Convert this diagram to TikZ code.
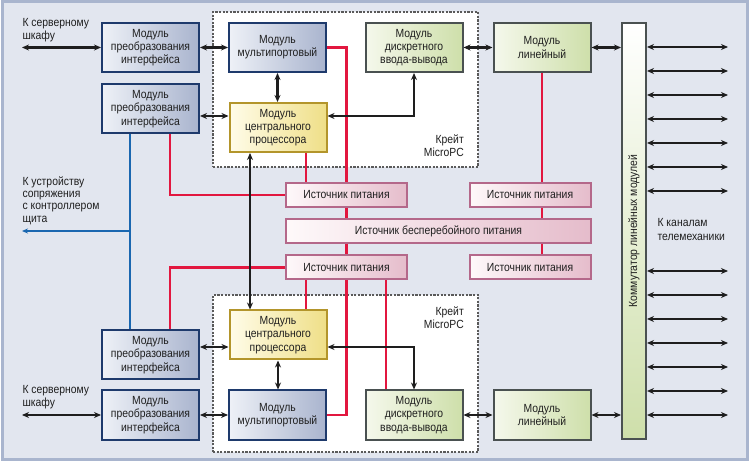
\documentclass[tikz,border=0pt]{standalone}
\usepackage{fontspec}
\setmainfont{Liberation Sans}[FakeStretch=0.88]
\usetikzlibrary{arrows.meta}

\definecolor{bgfill}{HTML}{E2E6EF}
\definecolor{bgframe}{HTML}{A9B5CE}
\definecolor{txtcol}{HTML}{1F1F1F}
\definecolor{ifborder}{HTML}{1E3A6C}
\definecolor{iflight}{HTML}{EEF1F7}
\definecolor{ifdark}{HTML}{A9B4CE}
\definecolor{cpuborder}{HTML}{B3952B}
\definecolor{cpulight}{HTML}{FFFCE8}
\definecolor{cpudark}{HTML}{EFDF88}
\definecolor{grborder}{HTML}{4A5151}
\definecolor{grlight}{HTML}{F5F8EC}
\definecolor{grdark}{HTML}{CEDFAA}
\definecolor{psborder}{HTML}{B4688A}
\definecolor{pslight}{HTML}{FEF9FA}
\definecolor{psdark}{HTML}{E5BCCB}
\definecolor{pwrline}{HTML}{E2173F}
\definecolor{busline}{HTML}{1A67B0}
\definecolor{sigline}{HTML}{1E1E1E}
\definecolor{crateline}{HTML}{5A5A5A}

\tikzset{
    modbox/.style={draw, line width=2pt, align=center, inner sep=1pt,
        minimum width=97pt, minimum height=49pt},
    ifmod/.style={modbox, draw=ifborder, left color=iflight, right color=ifdark},
    cpumod/.style={modbox, draw=cpuborder, left color=cpulight, right color=cpudark},
    grmod/.style={modbox, draw=grborder, left color=grlight, right color=grdark},
    psbox/.style={draw=psborder, line width=2pt, left color=pslight, right color=psdark,
        minimum width=121pt, minimum height=24pt, inner sep=1pt},
    crate/.style={draw=crateline, fill=white, line width=1.3pt, dash pattern=on 2.2pt off 1.4pt},
    sig/.style={draw=sigline, line width=2.1pt},
    pwr/.style={draw=pwrline, line width=2.3pt},
    bus/.style={draw=busline, line width=2.2pt},
    chan/.style={draw=sigline, line width=1.9pt, <->},
    lbl/.style={align=left, anchor=west}
}

\begin{document}
\begin{tikzpicture}[x=1pt, y=-1pt,
        every node/.append style={font=\fontsize{11.8}{13.3}\selectfont, text=txtcol},
        >={Stealth[length=7pt,width=6pt]}]
                \useasboundingbox (0,0) rectangle (750,462);
                \fill[white] (0,0) rectangle (750,462);
                \draw[bgframe, fill=bgfill, line width=3pt] (2,2) rectangle (747,459);

                \node[crate, minimum width=265pt, minimum height=155pt] (crate1) at (345.5,89.5) {};
                \node[crate, minimum width=265pt, minimum height=157pt] (crate2) at (345.5,373.5) {};
                \node[align=right, anchor=east, inner sep=0pt] (crate1lbl) at (464,145.5) {Крейт\\MicroPC};
                \node[align=right, anchor=east, inner sep=0pt] (crate2lbl) at (464,317.5) {Крейт\\MicroPC};

                \node[ifmod] (if1) at (150.5,47.5) {Модуль\\преобразования\\интерфейса};
                \node[ifmod] (if2) at (150.5,109) {Модуль\\преобразования\\интерфейса};
                \node[ifmod] (if3) at (150.5,355) {Модуль\\преобразования\\интерфейса};
                \node[ifmod] (if4) at (150.5,415) {Модуль\\преобразования\\интерфейса};

                \node[ifmod] (mp1) at (277.5,47.5) {Модуль\\мультипортовый};
                \node[cpumod] (cpu1) at (278,127.5) {Модуль\\центрального\\процессора};
                \node[grmod] (dio1) at (414,47.5) {Модуль\\дискретного\\ввода-вывода};
                \node[grmod] (lin1) at (542,47.5) {Модуль\\линейный};

                \node[cpumod] (cpu2) at (278,335) {Модуль\\центрального\\процессора};
                \node[ifmod] (mp2) at (277.5,415) {Модуль\\мультипортовый};
                \node[grmod] (dio2) at (414,415) {Модуль\\дискретного\\ввода-вывода};
                \node[grmod] (lin2) at (542,415) {Модуль\\линейный};

                \node[psbox] (ps1) at (346.5,195) {Источник питания};
                \node[psbox] (ps2) at (346.5,267.5) {Источник питания};
                \node[psbox] (psr1) at (530,195) {Источник питания};
                \node[psbox] (psr2) at (530,267.5) {Источник питания};
                \node[psbox, minimum width=305pt] (ups) at (438.5,231) {Источник бесперебойного питания};

                \node[draw=grborder, line width=2pt, top color=white, bottom color=grdark,
                    minimum width=24pt, minimum height=416pt] (comm) at (634,231) {};
                \node[rotate=90] (commlbl) at (comm.center) {Коммутатор линейных модулей};

                \node[lbl] (srv1lbl) at (19,30) {К серверному\\шкафу};
                \node[lbl] (srv2lbl) at (19,397) {К серверному\\шкафу};
                \node[lbl, font=\fontsize{11.8}{12.4}\selectfont] (ctrllbl) at (19,200.5) {К устройству\\сопряжения\\с контроллером\\щита};
                \node[lbl] (chanlbl) at (654,229.5) {К каналам\\телемеханики};

                \coordinate (srv1) at (22,47.5);
                \coordinate (srv2) at (22,415);
                \coordinate (ctrl) at (22,231);

                \draw[pwr] (mp1.east) -| (ps1.north);
                \draw[pwr] (ps1.south) -- (ps1.south |- ups.north);
                \draw[pwr] (ps1.south |- ups.south) -- (ps2.north);
                \draw[pwr] (ps2.south) |- (mp2.east);
                \draw[pwr] (cpu1.south -| 306,0) -- (ps1.north -| 306,0);
                \draw[pwr] (if2.south -| 170,0) |- (ps1.west);
                \draw[pwr] (ps2.west) -| (if3.north -| 170,0);
                \draw[pwr] (ps2.south -| 306,0) -- (cpu2.north -| 306,0);
                \draw[pwr] (ps2.south -| 386,0) -- (dio2.north -| 386,0);
                \draw[pwr] (lin1.south) -- (lin1.south |- psr1.north);
                \draw[pwr] (lin1.south |- psr1.south) -- (lin1.south |- ups.north);
                \draw[pwr] (lin1.south |- ups.south) -- (lin1.south |- psr2.north);

                \draw[bus] (if2.south -| 130,0) -- (if3.north -| 130,0);
                \draw[bus, -{Stealth[length=6pt,width=5pt]}] (ctrl -| 130,0) -- (ctrl);

                \draw[sig, <->] (srv1) -- (if1.west);
                \draw[sig, <->] (if1.east) -- (mp1.west);
                \draw[sig, <->] (if2.east |- 0,116) -- (cpu1.west |- 0,116);
                \draw[sig, <->] (mp1.south) -- (mp1.south |- cpu1.north);
                \draw[sig, <->] (cpu1.east |- 0,116) -| (dio1.south);
                \draw[sig, <->] (dio1.east) -- (lin1.west);
                \draw[sig, <->] (lin1.east) -- (comm.west |- lin1.east);
                \draw[sig, <->] (cpu1.south -| 250,0) -- (cpu2.north -| 250,0);

                \draw[sig, <->] (if3.east |- 0,347) -- (cpu2.west |- 0,347);
                \draw[sig, <->] (cpu2.east |- 0,347) -| (dio2.north);
                \draw[sig, <->] (cpu2.south) -- (cpu2.south |- mp2.north);
                \draw[sig, <->] (srv2) -- (if4.west);
                \draw[sig, <->] (if4.east) -- (mp2.west);
                \draw[sig, <->] (dio2.east) -- (lin2.west);
                \draw[sig, <->] (lin2.east) -- (comm.west |- lin2.east);

                \draw[chan] (comm.east |- 0,47) -- +(81,0);
                \draw[chan] (comm.east |- 0,71) -- +(81,0);
                \draw[chan] (comm.east |- 0,95) -- +(81,0);
                \draw[chan] (comm.east |- 0,119) -- +(81,0);
                \draw[chan] (comm.east |- 0,143) -- +(81,0);
                \draw[chan] (comm.east |- 0,167) -- +(81,0);
                \draw[chan] (comm.east |- 0,191) -- +(81,0);
                \draw[chan] (comm.east |- 0,271) -- +(81,0);
                \draw[chan] (comm.east |- 0,295) -- +(81,0);
                \draw[chan] (comm.east |- 0,319) -- +(81,0);
                \draw[chan] (comm.east |- 0,343) -- +(81,0);
                \draw[chan] (comm.east |- 0,367) -- +(81,0);
                \draw[chan] (comm.east |- 0,391) -- +(81,0);
                \draw[chan] (comm.east |- 0,415) -- +(81,0);
\end{tikzpicture}
\end{document}
